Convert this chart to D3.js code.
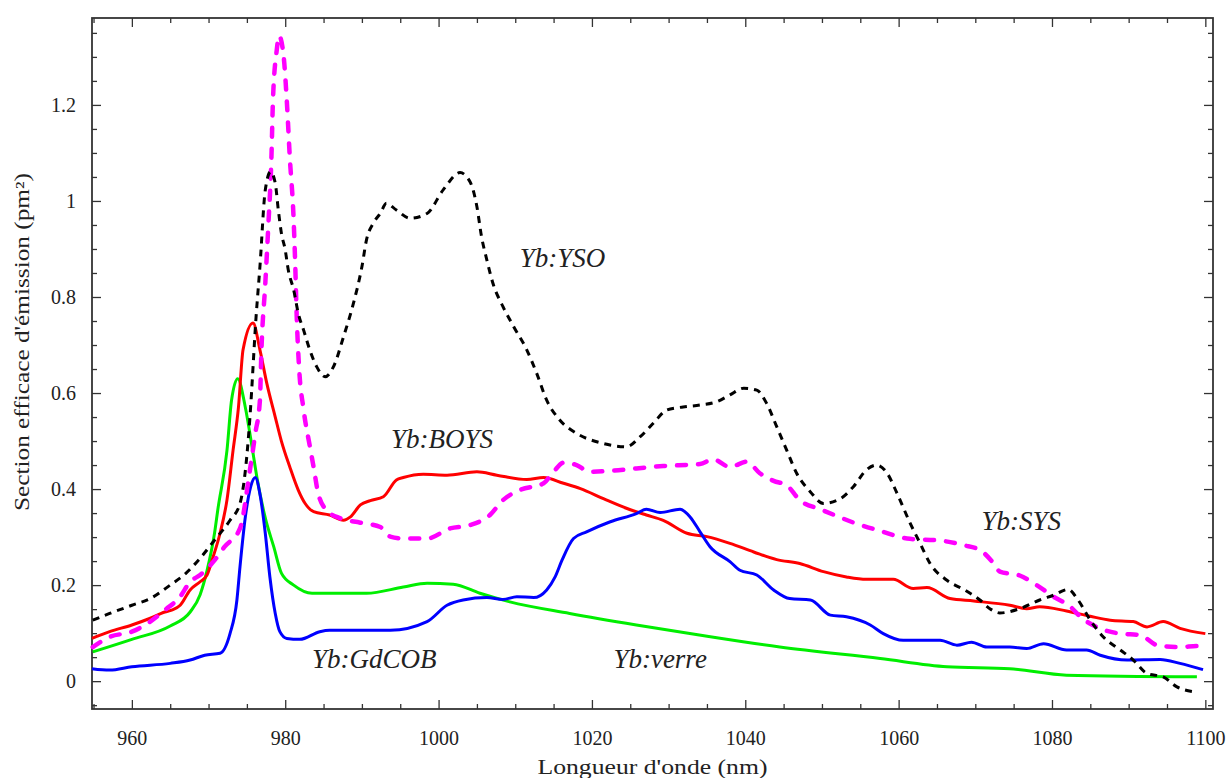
<!DOCTYPE html>
<html>
<head>
<meta charset="utf-8">
<script src="https://cdn.jsdelivr.net/npm/d3@7"></script>
<style>
  body { margin: 0; background: #fff; }
  text { font-family: "Liberation Serif", "DejaVu Serif", serif; fill: #222; }
</style>
</head>
<body>
<svg id="chart" width="1232" height="778"></svg>
<script>
// spectra: [wavelength nm, cross-section pm^2]
var ybVerre = [
  [954.9,0.061],[960,0.087],[965,0.115],[967.6,0.144],[968.9,0.18],[969.8,0.23],
  [970.8,0.31],[971.2,0.356],[972.4,0.48],[973,0.585],[973.8,0.63],[974.8,0.57],
  [975.7,0.485],[976.3,0.425],[977.4,0.34],[978.5,0.28],[979.5,0.225],[981.1,0.2],
  [983.5,0.183],[990.6,0.183],[995.4,0.196],[998.5,0.204],[1001.9,0.202],[1005.4,0.183],
  [1009.3,0.165],[1017.1,0.141],[1025.8,0.117],[1034,0.096],[1044.5,0.071],[1057.6,0.047],
  [1066.3,0.03],[1074.5,0.026],[1081.9,0.0125],[1098.9,0.009]
];
var ybGdCOB = [
  [954.8,0.026],[957.1,0.023],[960,0.03],[965,0.037],[967.6,0.044],[969.5,0.054],
  [971.5,0.058],[972.8,0.099],[973.7,0.169],[974.1,0.238],[974.8,0.342],[975.5,0.405],
  [976.1,0.424],[976.7,0.39],[977.4,0.308],[978,0.217],[978.7,0.141],[979.3,0.103],
  [980.2,0.089],[981.9,0.087],[984.5,0.103],[985.8,0.106],[993.7,0.106],[998.5,0.124],
  [1001.1,0.158],[1003.2,0.169],[1006.3,0.174],[1008.4,0.17],[1010.2,0.176],[1012.4,0.174],
  [1014.1,0.19],[1015.2,0.217],[1016.1,0.252],[1017.6,0.297],[1019.3,0.311],[1022.4,0.332],
  [1025.8,0.349],[1027.1,0.358],[1028.9,0.351],[1031.5,0.358],[1032.8,0.342],[1034.1,0.311],
  [1035.4,0.28],[1038,0.249],[1039.3,0.231],[1041.5,0.221],[1043.7,0.19],[1045.8,0.172],
  [1048.5,0.169],[1051.1,0.1375],[1053.2,0.134],[1056.3,0.117],[1058,0.099],[1060.6,0.085],
  [1065.4,0.085],[1067.6,0.075],[1069.5,0.081],[1071.5,0.071],[1074.5,0.071],[1076.7,0.068],
  [1078.9,0.078],[1081.9,0.065],[1084.5,0.065],[1086.3,0.054],[1089.8,0.044],[1094.1,0.045],
  [1096.7,0.037],[1099.7,0.024]
];
var ybBOYS = [
  [954.8,0.089],[957.1,0.103],[960,0.117],[962.4,0.131],[964.3,0.144],[965.2,0.148],
  [966.3,0.158],[967.6,0.19],[968.9,0.207],[969.8,0.221],[970.6,0.259],[971.5,0.308],
  [972.4,0.377],[973.2,0.481],[973.9,0.57],[974.5,0.69],[975.8,0.746],[976.7,0.69],
  [977.6,0.62],[978.7,0.55],[979.5,0.5],[980.6,0.446],[981.7,0.398],[982.6,0.37],
  [983.7,0.353],[985.8,0.346],[987.6,0.335],[988.5,0.342],[989.8,0.367],[991.1,0.376],
  [992.8,0.384],[994.5,0.419],[995.4,0.424],[998,0.431],[1001.1,0.429],[1005,0.436],
  [1007.6,0.429],[1011.5,0.42],[1013.7,0.424],[1016.3,0.412],[1018.5,0.401],[1021.5,0.38],
  [1024.5,0.36],[1027.1,0.346],[1029.3,0.335],[1032.4,0.308],[1035,0.301],[1038,0.287],
  [1041.1,0.269],[1044.1,0.253],[1047.1,0.245],[1050.2,0.228],[1053.2,0.217],[1055.8,0.212],
  [1059.3,0.212],[1061.9,0.193],[1063.7,0.195],[1066.7,0.172],[1069.8,0.167],[1074.5,0.158],
  [1076.7,0.151],[1078.4,0.155],[1081.9,0.146],[1085,0.135],[1087.6,0.127],[1090.6,0.124],
  [1092.4,0.113],[1094.5,0.124],[1096.7,0.11],[1100,0.099]
];
var ybSYS = [
  [954.9,0.071],[957.1,0.092],[960,0.103],[962.4,0.124],[964.3,0.148],[966.3,0.176],
  [967.6,0.207],[968.9,0.221],[970.8,0.252],[972.1,0.28],[974.1,0.318],[975.4,0.44],
  [976.1,0.516],[976.7,0.585],[976.9,0.69],[977.4,0.828],[977.8,0.95],[978.2,1.09],
  [978.4,1.21],[978.9,1.315],[979.2,1.344],[979.8,1.3],[980.2,1.21],[980.6,1.09],
  [981.1,0.96],[981.3,0.87],[981.5,0.759],[981.8,0.655],[982.4,0.565],[983.2,0.49],
  [983.7,0.446],[984.3,0.391],[985.4,0.356],[987.2,0.339],[989.8,0.33],[992.4,0.321],
  [993.7,0.301],[995.4,0.297],[998.5,0.297],[1001.5,0.318],[1004.1,0.325],[1006.7,0.346],
  [1008.4,0.377],[1010.6,0.398],[1013.7,0.412],[1015,0.436],[1016.3,0.455],[1018,0.45],
  [1019.7,0.436],[1022.4,0.438],[1025.8,0.443],[1029.3,0.448],[1034.1,0.452],[1035.8,0.462],
  [1038,0.446],[1040.2,0.457],[1041.9,0.433],[1043.7,0.417],[1045.4,0.408],[1047.1,0.377],
  [1049.8,0.358],[1051.9,0.344],[1054.5,0.328],[1057.6,0.313],[1061.1,0.297],[1065.8,0.292],
  [1068.5,0.283],[1070.6,0.273],[1072.4,0.245],[1073.2,0.228],[1075.8,0.22],[1078,0.2],
  [1080.2,0.176],[1082.4,0.155],[1083.7,0.134],[1085.8,0.113],[1088.9,0.099],[1091.5,0.096],
  [1093.7,0.075],[1096.7,0.071],[1098.9,0.073],[1100,0.061]
];
var ybYSO = [
  [954.9,0.127],[957.1,0.141],[960,0.158],[962.4,0.172],[965,0.2],[967,0.224],
  [968.9,0.256],[970.8,0.294],[972.8,0.335],[974.1,0.37],[975,0.47],[975.4,0.55],
  [976.2,0.759],[976.7,0.863],[977.4,1.023],[978.1,1.061],[978.7,1.037],[979.1,0.981],
  [979.5,0.933],[980,0.898],[980.4,0.856],[981.1,0.815],[981.7,0.766],[982.4,0.731],
  [983.2,0.69],[984.1,0.655],[985.2,0.634],[986.3,0.655],[987.6,0.717],[988.9,0.787],
  [990,0.863],[990.6,0.919],[991.5,0.954],[992.4,0.974],[993.2,0.995],[994.5,0.981],
  [996.3,0.964],[998.5,0.974],[1000.6,1.023],[1002.8,1.059],[1004.1,1.04],[1005,0.988],
  [1005.6,0.926],[1006.3,0.877],[1007.1,0.828],[1008.4,0.78],[1009.8,0.738],[1011.5,0.69],
  [1012.8,0.641],[1014.1,0.585],[1015.8,0.544],[1018,0.516],[1021.5,0.495],[1024.5,0.488],
  [1026.3,0.509],[1028,0.537],[1029.8,0.565],[1031.9,0.571],[1034.1,0.575],[1036.3,0.582],
  [1038,0.596],[1039.8,0.61],[1041.5,0.606],[1042.8,0.578],[1044.1,0.53],[1045.4,0.481],
  [1046.7,0.433],[1048.5,0.394],[1050.2,0.37],[1052.4,0.38],[1054.1,0.405],[1055.8,0.44],
  [1057.1,0.45],[1058.5,0.433],[1059.8,0.391],[1061.5,0.329],[1062.8,0.287],[1064.1,0.245],
  [1066.3,0.21],[1068.6,0.19],[1070.6,0.169],[1071.9,0.151],[1073.2,0.142],[1075.8,0.151],
  [1078.4,0.169],[1080.2,0.179],[1082.1,0.191],[1083.4,0.169],[1085,0.127],[1086.7,0.092],
  [1088.9,0.065],[1090.6,0.044],[1092.4,0.016],[1094.5,0.009],[1096.3,-0.012],[1098.5,-0.022]
];

var xTicks = [960, 980, 1000, 1020, 1040, 1060, 1080, 1100];
var yTicks = [0, 0.2, 0.4, 0.6, 0.8, 1, 1.2];
var yTickLabels = ["0", "0.2", "0.4", "0.6", "0.8", "1", "1.2"];

// label text with its anchor in data units
var labels = [
  {text: "Yb:YSO", nm: 1010.6, v: 0.862},
  {text: "Yb:BOYS", nm: 993.8, v: 0.485},
  {text: "Yb:SYS", nm: 1070.8, v: 0.314},
  {text: "Yb:GdCOB", nm: 983.5, v: 0.027},
  {text: "Yb:verre", nm: 1022.8, v: 0.027}
];

var svg = d3.select("#chart");
var margin = {top: 18, right: 19, bottom: 69, left: 92};
var W = 1232, H = 778;

var x = d3.scaleLinear().domain([954.8, 1101]).range([margin.left, W - margin.right]);
var y = d3.scaleLinear().domain([-0.058, 1.381]).range([H - margin.bottom, margin.top]);

var xMinor = d3.range(955, 1101, 5).filter(function(v) { return xTicks.indexOf(v) < 0; });
var yMinor = d3.range(-0.05, 1.38, 0.05).map(function(v) { return Math.round(v * 100) / 100; })
    .filter(function(v) { return yTicks.indexOf(v) < 0; });

function styleAxis(g) {
    g.select(".domain").remove();
    g.selectAll(".tick line").attr("stroke", "#333").attr("stroke-width", 1.3);
    g.selectAll(".tick text").attr("font-size", 20).attr("fill", "#222")
        .attr("font-family", "Liberation Serif");
}

// major + minor ticks on all four sides, pointing inward
svg.append("g").attr("transform", "translate(0," + (H - margin.bottom) + ")")
    .call(d3.axisBottom(x).tickValues(xTicks).tickSize(-9).tickPadding(22).tickFormat(d3.format("d")))
    .call(styleAxis);
svg.append("g").attr("transform", "translate(0," + (H - margin.bottom) + ")")
    .call(d3.axisBottom(x).tickValues(xMinor).tickSize(-5).tickFormat(""))
    .call(styleAxis);
svg.append("g").attr("transform", "translate(0," + margin.top + ")")
    .call(d3.axisTop(x).tickValues(xTicks).tickSize(-9).tickFormat(""))
    .call(styleAxis);
svg.append("g").attr("transform", "translate(0," + margin.top + ")")
    .call(d3.axisTop(x).tickValues(xMinor).tickSize(-5).tickFormat(""))
    .call(styleAxis);

svg.append("g").attr("transform", "translate(" + margin.left + ",0)")
    .call(d3.axisLeft(y).tickValues(yTicks).tickSize(-9).tickPadding(16)
        .tickFormat(function(d, i) { return yTickLabels[i]; }))
    .call(styleAxis);
svg.append("g").attr("transform", "translate(" + margin.left + ",0)")
    .call(d3.axisLeft(y).tickValues(yMinor).tickSize(-5).tickFormat(""))
    .call(styleAxis);
svg.append("g").attr("transform", "translate(" + (W - margin.right) + ",0)")
    .call(d3.axisRight(y).tickValues(yTicks).tickSize(-9).tickFormat(""))
    .call(styleAxis);
svg.append("g").attr("transform", "translate(" + (W - margin.right) + ",0)")
    .call(d3.axisRight(y).tickValues(yMinor).tickSize(-5).tickFormat(""))
    .call(styleAxis);

svg.append("rect")
    .attr("x", margin.left).attr("y", margin.top)
    .attr("width", W - margin.left - margin.right)
    .attr("height", H - margin.top - margin.bottom)
    .attr("fill", "none").attr("stroke", "#333").attr("stroke-width", 1.8);

var line = d3.line()
    .x(function(d) { return x(d[0]); })
    .y(function(d) { return y(d[1]); })
    .curve(d3.curveMonotoneX);

var series = [
    {data: ybVerre, color: "#00ee00", width: 3, dash: null, cap: "butt"},
    {data: ybBOYS, color: "#ff0000", width: 3, dash: null, cap: "butt"},
    {data: ybGdCOB, color: "#0000ff", width: 3, dash: null, cap: "butt"},
    {data: ybSYS, color: "#ff00ff", width: 4.5, dash: "9,12", cap: "round"},
    {data: ybYSO, color: "#000000", width: 3, dash: "7,6", cap: "butt"}
];

svg.append("g").selectAll("path")
    .data(series)
    .enter().append("path")
    .attr("d", function(d) { return line(d.data); })
    .attr("fill", "none")
    .attr("stroke", function(d) { return d.color; })
    .attr("stroke-width", function(d) { return d.width; })
    .attr("stroke-dasharray", function(d) { return d.dash; })
    .attr("stroke-linecap", function(d) { return d.cap; })
    .attr("stroke-linejoin", "round");

svg.append("g").selectAll("text")
    .data(labels)
    .enter().append("text")
    .attr("x", function(d) { return x(d.nm); })
    .attr("y", function(d) { return y(d.v); })
    .attr("font-size", 27)
    .attr("font-style", "italic")
    .text(function(d) { return d.text; });

svg.append("text")
    .attr("x", (margin.left + W - margin.right) / 2)
    .attr("y", 774)
    .attr("text-anchor", "middle")
    .attr("font-size", 21)
    .attr("textLength", 230)
    .attr("lengthAdjust", "spacingAndGlyphs")
    .text("Longueur d'onde (nm)");

svg.append("text")
    .attr("transform", "translate(29,342) rotate(-90)")
    .attr("text-anchor", "middle")
    .attr("font-size", 20)
    .attr("textLength", 338)
    .attr("lengthAdjust", "spacingAndGlyphs")
    .text("Section efficace d'émission (pm²)");
</script>
</body>
</html>
